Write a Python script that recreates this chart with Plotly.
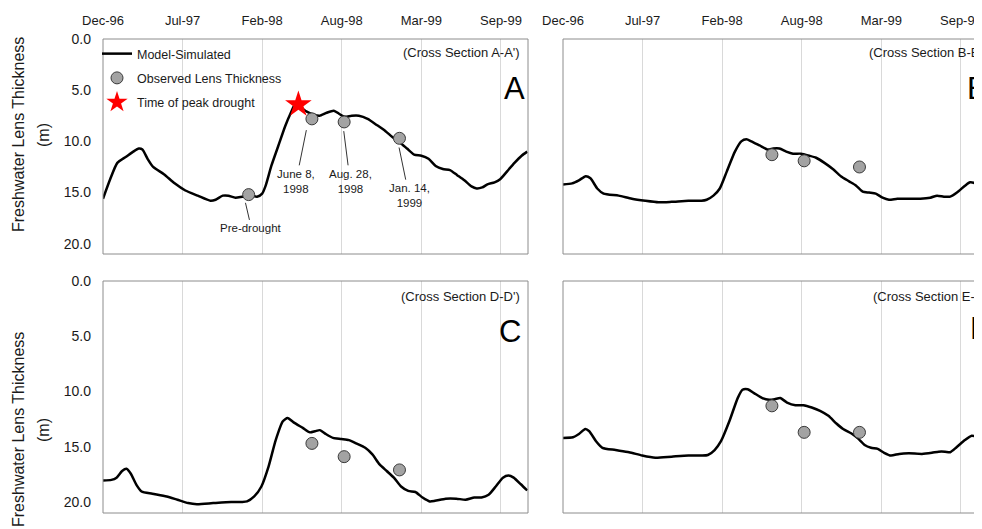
import pandas as pd
import plotly.graph_objects as go

# ---------------- data ----------------
BASE = pd.Timestamp("1996-12-30")
tick_labels = ["Dec-96", "Jul-97", "Feb-98", "Aug-98", "Mar-99", "Sep-99"]
tick_days = [0, 200, 400, 600, 800, 1000]
y_ticks = [0, 5, 10, 15, 20]

# Model-simulated lens thickness (days since 1996-12-30, metres)
A_days = [0, 18, 36, 58, 76, 90, 99, 112, 126, 153, 180, 207, 238, 270, 283, 301, 315, 333, 350, 369,
          387, 400, 409, 423, 440, 458, 472, 481, 494, 512, 530, 544, 562, 580, 593, 607, 625, 643, 665, 688,
          710, 728, 746, 764, 782, 800, 818, 836, 854, 872, 890, 908, 926, 939, 953, 966, 984, 998, 1016, 1034,
          1052, 1066]
A_vals = [15.6, 13.7, 12.1, 11.5, 11.0, 10.7, 10.8, 11.7, 12.5, 13.2, 14.1, 14.8, 15.3, 15.8, 15.7, 15.3, 15.3, 15.5, 15.4, 15.3,
          15.4, 15.1, 14.3, 12.4, 10.5, 8.5, 7.2, 6.5, 6.6, 7.1, 7.4, 7.5, 7.2, 7.0, 7.3, 7.6, 7.5, 7.5, 7.8, 8.4,
          9.0, 9.6, 10.1, 10.7, 11.3, 11.4, 11.7, 12.4, 12.7, 12.8, 13.3, 13.8, 14.4, 14.6, 14.5, 14.2, 14.0, 13.7, 12.9, 12.1,
          11.4, 11.0]

B_days = [0, 23, 40, 57, 69, 86, 102, 140, 173, 207, 240, 273, 315, 348, 361, 378, 394, 411, 432, 448,
          461, 473, 494, 515, 528, 544, 561, 578, 598, 619, 636, 657, 678, 698, 719, 736, 753, 769, 786, 803,
          819, 840, 865, 898, 923, 940, 957, 973, 990, 1011, 1023, 1036, 1053]
B_vals = [14.2, 14.1, 13.8, 13.4, 13.6, 14.6, 15.1, 15.3, 15.6, 15.8, 15.95, 15.9, 15.8, 15.8, 15.7, 15.3, 14.6, 13.0, 11.0, 10.0,
          9.8, 10.0, 10.4, 10.8, 10.7, 10.7, 11.0, 11.2, 11.2, 11.4, 11.6, 12.1, 12.7, 13.4, 13.9, 14.3, 14.9, 15.0, 15.1, 15.5,
          15.7, 15.6, 15.6, 15.6, 15.5, 15.3, 15.4, 15.4, 15.0, 14.3, 14.0, 14.1, 14.5]

C_days = [0, 21, 34, 48, 59, 70, 84, 97, 124, 160, 187, 214, 236, 277, 322, 349, 362, 380, 398, 416,
          434, 452, 464, 479, 502, 520, 533, 545, 560, 578, 599, 618, 636, 659, 677, 695, 713, 731, 749, 767,
          785, 803, 821, 834, 861, 888, 911, 933, 951, 969, 987, 1005, 1019, 1032, 1050, 1066]
C_vals = [18.05, 18.0, 17.8, 17.2, 17.0, 17.45, 18.45, 19.05, 19.25, 19.5, 19.8, 20.1, 20.2, 20.1, 20.0, 20.0, 19.95, 19.5, 18.6, 16.8,
          14.4, 12.7, 12.4, 12.8, 13.3, 13.7, 13.6, 13.5, 13.85, 14.2, 14.3, 14.4, 14.7, 15.1, 15.7, 16.6, 17.2, 17.8, 18.6, 19.0,
          19.1, 19.6, 19.95, 19.9, 19.7, 19.7, 19.8, 19.6, 19.6, 19.35, 18.6, 17.8, 17.6, 17.8, 18.4, 18.96]

D_days = [0, 25, 40, 56, 66, 83, 99, 132, 166, 199, 232, 273, 315, 348, 364, 381, 397, 418, 439, 451,
          464, 480, 501, 518, 532, 546, 563, 584, 604, 625, 646, 667, 687, 704, 725, 741, 758, 774, 791, 807,
          824, 845, 869, 902, 927, 944, 960, 973, 989, 1010, 1027, 1040, 1053]
D_vals = [14.2, 14.15, 13.85, 13.4, 13.6, 14.5, 15.1, 15.3, 15.5, 15.8, 16.0, 15.9, 15.8, 15.8, 15.75, 15.3, 14.5, 12.7, 10.6, 9.85,
          9.8, 10.15, 10.6, 10.75, 10.7, 10.6, 11.0, 11.25, 11.25, 11.45, 11.75, 12.2, 12.9, 13.4, 13.8, 14.25, 14.85, 15.1, 15.2, 15.55,
          15.8, 15.65, 15.6, 15.65, 15.55, 15.45, 15.45, 15.5, 15.05, 14.4, 14.0, 14.1, 14.3]

# Observed lens thickness
obs_dates_A = ["1997-12-31", "1998-06-08", "1998-08-28", "1999-01-14"]
obs_A = [15.2, 7.8, 8.1, 9.7]
obs_dates = ["1998-06-08", "1998-08-28", "1999-01-14"]
obs_B = [11.3, 11.9, 12.5]
obs_C = [14.7, 15.9, 17.1]
obs_D = [11.3, 13.7, 13.7]

peak_dates = ["1998-05-05"]
peak_vals = [6.4]

# ---------------- layout helpers ----------------
OX, OY = 8, 8          # page offset of the figure inside the browser window
W, H = 982 - OX, 529 - OY
FN = "Liberation Sans, Arial, sans-serif"
TXT = "#1a1a1a"


def d(days):
    return BASE + pd.to_timedelta(days, unit="D")


def px(x):
    return (x - OX) / W


def py(y):
    return 1 - (y - OY) / H


tickvals = [d(t) for t in tick_days]

fig = go.Figure()

panels = [
    ("x", "y", A_days, A_vals, obs_dates_A, obs_A, True),
    ("x2", "y2", B_days, B_vals, obs_dates, obs_B, False),
    ("x3", "y3", C_days, C_vals, obs_dates, obs_C, False),
    ("x4", "y4", D_days, D_vals, obs_dates, obs_D, False),
]

for xa, ya, dd, vv, od, ov, leg in panels:
    fig.add_trace(go.Scatter(
        x=d(pd.Series(dd)), y=vv, mode="lines", name="Model-Simulated",
        line=dict(color="black", width=2.5, shape="spline", smoothing=0.6),
        xaxis=xa, yaxis=ya, showlegend=leg, legendgroup="a", hoverinfo="skip"))
    fig.add_trace(go.Scatter(
        x=pd.to_datetime(od), y=ov, mode="markers", name="Observed Lens Thickness",
        marker=dict(size=12, color="#a3a3a3", line=dict(color="#3a3a3a", width=1)),
        xaxis=xa, yaxis=ya, showlegend=leg, legendgroup="b"))

fig.add_trace(go.Scatter(
    x=pd.to_datetime(peak_dates), y=peak_vals, mode="markers", name="Time of peak drought",
    marker=dict(symbol="star", size=20, color="#ff0000", line=dict(width=0)),
    xaxis="x", yaxis="y", showlegend=True, legendgroup="c"))

xl, xr = 103, 528
xl2, xr2_full = 563, 988
xr2 = OX + W                      # right panels are cut by the window edge
top_y = (39, 254)
bot_y = (281, 513)

span_full = 1068
span_cut = span_full * (xr2 - xl2) / (xr2_full - xl2)

common_x = dict(tickmode="array", tickvals=tickvals, ticktext=tick_labels, automargin=False,
                showgrid=True, gridcolor="#d9d9d9", gridwidth=1, zeroline=False,
                showline=False, ticks="", tickfont=dict(family=FN, size=13, color=TXT))
common_y = dict(range=[21, 0], tickmode="array", tickvals=y_ticks, tickformat=".1f", automargin=False,
                showgrid=False, zeroline=False, showline=False, ticks="",
                tickfont=dict(family=FN, size=14, color=TXT), ticklabelstandoff=11)

fig.update_layout(
    template="none",
    width=W, height=H, margin=dict(l=0, r=0, t=0, b=0, autoexpand=False),
    paper_bgcolor="white", plot_bgcolor="white",
    font=dict(family=FN, color=TXT),
    xaxis=dict(domain=[px(xl), px(xr)], anchor="y", side="top", ticklabelstandoff=10,
               range=[d(0), d(span_full)], **common_x),
    xaxis2=dict(domain=[px(xl2), 1.0], anchor="y2", side="top", ticklabelstandoff=10,
                range=[d(0), d(span_cut)], **common_x),
    xaxis3=dict(domain=[px(xl), px(xr)], anchor="y3", showticklabels=False,
                range=[d(0), d(span_full)], **common_x),
    xaxis4=dict(domain=[px(xl2), 1.0], anchor="y4", showticklabels=False,
                range=[d(0), d(span_cut)], **common_x),
    yaxis=dict(domain=[py(top_y[1]), py(top_y[0])], anchor="x", **common_y),
    yaxis2=dict(domain=[py(top_y[1]), py(top_y[0])], anchor="x2", showticklabels=False, **common_y),
    yaxis3=dict(domain=[py(bot_y[1]), py(bot_y[0])], anchor="x3", **common_y),
    yaxis4=dict(domain=[py(bot_y[1]), py(bot_y[0])], anchor="x4", showticklabels=False, **common_y),
    legend=dict(x=px(97), y=py(39), xanchor="left", yanchor="top",
                bgcolor="rgba(0,0,0,0)", borderwidth=0,
                font=dict(family=FN, size=12.5, color=TXT),
                traceorder="grouped", tracegroupgap=5, itemwidth=30),
    showlegend=True,
)

# plot-area borders (right panels' right edge lies beyond the window)
border = dict(type="rect", line=dict(color="#8c8c8c", width=1), fillcolor="rgba(0,0,0,0)", layer="above")
ext = (xr2_full - xl2) / (xr2 - xl2)
for xa, ya, x1 in [("x", "y", 1), ("x2", "y2", ext), ("x3", "y3", 1), ("x4", "y4", ext)]:
    fig.add_shape(xref=f"{xa} domain", yref=f"{ya} domain", x0=0, x1=x1, y0=0, y1=1, **border)

ann = []
# cross-section labels and panel letters
for xpos, anchor, yc, text in [(522, "right", 53, "(Cross Section A-A')"), (867, "left", 53, "(Cross Section B-B')"),
                               (522, "right", 296, "(Cross Section D-D')"), (871, "left", 296, "(Cross Section E-E')")]:
    ann.append(dict(xref="paper", yref="paper", x=px(xpos), y=py(yc), xanchor=anchor, yanchor="middle",
                    text=text, showarrow=False, font=dict(family=FN, size=13, color=TXT)))
for xleft, yc, text in [(502, 88, "A"), (965, 88, "B"), (497, 331, "C"), (968, 328, "D")]:
    ann.append(dict(xref="paper", yref="paper", x=px(xleft), y=py(yc), xanchor="left", yanchor="middle",
                    text=text, showarrow=False, font=dict(family=FN, size=31, color="black")))

# y titles
for yc in [135, 430]:
    ann.append(dict(xref="paper", yref="paper", x=px(18), y=py(yc), xanchor="center", yanchor="middle",
                    text="Freshwater Lens Thickness", textangle=-90, showarrow=False,
                    font=dict(family=FN, size=16, color=TXT)))
    ann.append(dict(xref="paper", yref="paper", x=px(43), y=py(yc), xanchor="center", yanchor="middle",
                    text="(m)", textangle=-90, showarrow=False,
                    font=dict(family=FN, size=16, color=TXT)))

# call-outs in panel A
callouts = [
    (d(511), 8.9, d(485), 13.9, "June 8,<br>1998"),
    (d(605), 9.0, d(621), 13.9, "Aug. 28,<br>1998"),
    (d(744), 10.6, d(769), 15.3, "Jan. 14,<br>1999"),
    (d(358), 16.0, d(373), 18.5, "Pre-drought"),
]
for x0, y0, tx, ty, text in callouts:
    ann.append(dict(xref="x", yref="y", x=x0, y=y0, axref="x", ayref="y", ax=tx, ay=ty,
                    text=text, showarrow=True, arrowhead=0, arrowwidth=1, arrowcolor="#333333",
                    standoff=0, startstandoff=1, font=dict(family=FN, size=11.5, color=TXT)))

fig.update_layout(annotations=ann)

fig.write_html("out.html")
